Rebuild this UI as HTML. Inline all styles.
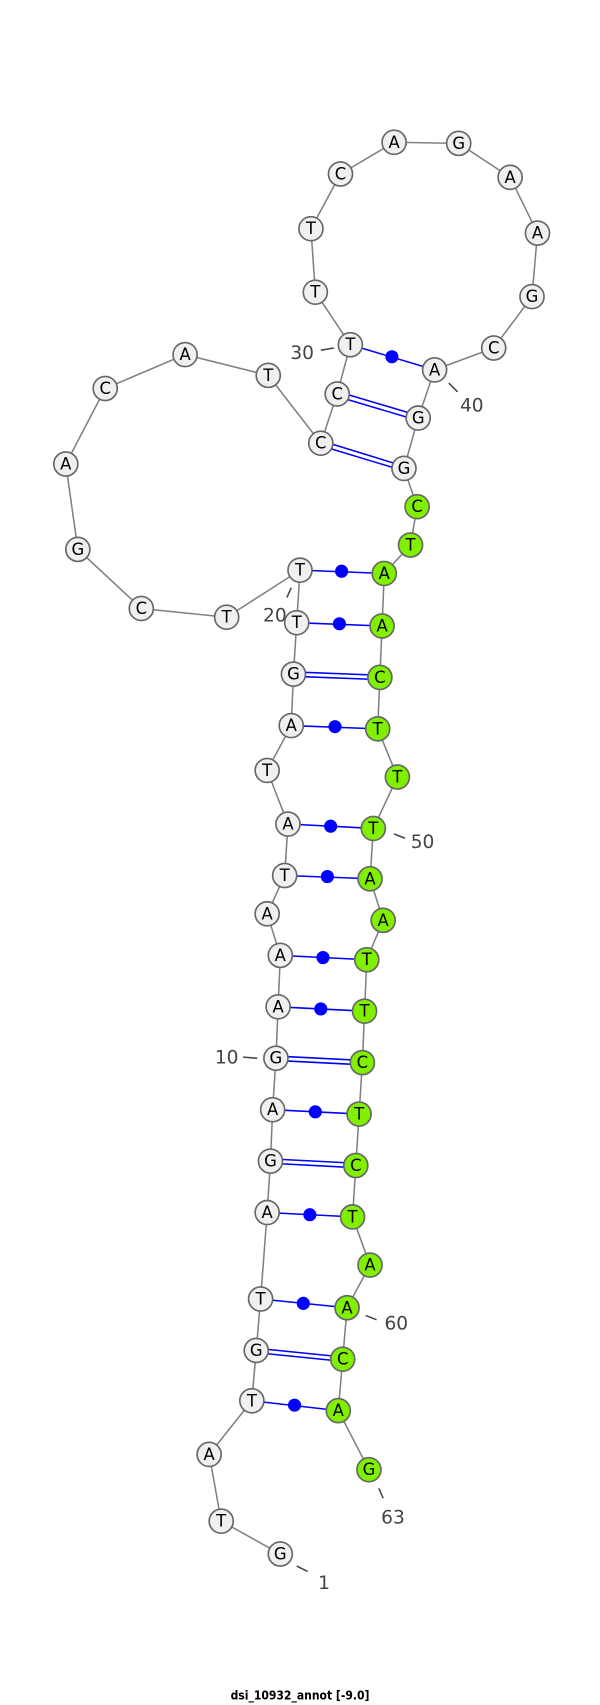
<!DOCTYPE html>
<html><head><meta charset="utf-8"><style>html,body{margin:0;padding:0;background:#fff}svg{display:block}</style></head>
<body>
<svg width="600" height="1705" viewBox="0 0 548 1558" xmlns="http://www.w3.org/2000/svg">
<polyline fill="none" stroke="#808080" stroke-width="1.4" points="256,1420 202,1390 191,1329 230,1280 234,1234 238,1187 244,1108 247,1061 249,1014 252,967 254,920 256,873 244,835 260,800 263,753 244,704 266,663 268,616 271,569 274,521 207,564 129,556 71,502 60,424 96,355 169,324 245,343 293,405 308,360 320,315 288,267 284,209 311,159 360,130 419,131 466,162 491,213 486,271 451,318 397,338 382,382 369,428 381,463 375,498 351,524 349,572 347,619 345,666 363,710 341,757 338,803 350,841 335,877 333,924 331,971 328,1018 325,1065 322,1112 338,1156 317,1195 313,1242 309,1289 337,1343"/>
<g stroke="#0000ff" stroke-width="1.4">
<line x1="230" y1="1280" x2="309" y2="1289"/>
<line x1="234" y1="1232" x2="313" y2="1240"/><line x1="234" y1="1236" x2="313" y2="1244"/>
<line x1="238" y1="1187" x2="317" y2="1195"/>
<line x1="244" y1="1108" x2="322" y2="1112"/>
<line x1="247" y1="1059" x2="325" y2="1063"/><line x1="247" y1="1063" x2="325" y2="1067"/>
<line x1="249" y1="1014" x2="328" y2="1018"/>
<line x1="252" y1="965" x2="331" y2="969"/><line x1="252" y1="969" x2="331" y2="973"/>
<line x1="254" y1="920" x2="333" y2="924"/>
<line x1="256" y1="873" x2="335" y2="877"/>
<line x1="260" y1="800" x2="338" y2="803"/>
<line x1="263" y1="753" x2="341" y2="757"/>
<line x1="266" y1="663" x2="345" y2="666"/>
<line x1="268" y1="614" x2="347" y2="617"/><line x1="268" y1="618" x2="347" y2="621"/>
<line x1="271" y1="569" x2="349" y2="572"/>
<line x1="274" y1="521" x2="351" y2="524"/>
<line x1="294" y1="403" x2="369" y2="426"/><line x1="292" y1="407" x2="368" y2="430"/>
<line x1="309" y1="358" x2="383" y2="380"/><line x1="307" y1="362" x2="381" y2="384"/>
<line x1="320" y1="315" x2="397" y2="338"/>
</g>
<g fill="#0000ff">
<circle cx="269" cy="1284" r="6"/><circle cx="277" cy="1191" r="6"/><circle cx="283" cy="1110" r="6"/>
<circle cx="288" cy="1016" r="6"/><circle cx="293" cy="922" r="6"/><circle cx="295" cy="875" r="6"/>
<circle cx="299" cy="801" r="6"/><circle cx="302" cy="755" r="6"/><circle cx="306" cy="664" r="6"/>
<circle cx="310" cy="570" r="6"/><circle cx="312" cy="522" r="6"/><circle cx="358" cy="326" r="6"/>
</g>
<g stroke="#444" stroke-width="1.4">
<line x1="293" y1="320" x2="305" y2="318"/><line x1="410" y1="350" x2="418" y2="358"/>
<line x1="266" y1="537" x2="262" y2="546"/><line x1="360" y1="762" x2="370" y2="766"/>
<line x1="222" y1="966" x2="235" y2="967"/><line x1="334" y1="1202" x2="344" y2="1206"/>
<line x1="346" y1="1360" x2="350" y2="1369"/><line x1="271" y1="1431" x2="281" y2="1436"/>
</g>
<g font-family="DejaVu Sans, Liberation Sans, sans-serif" font-size="17" fill="#444" text-anchor="middle">
<text x="276" y="328">30</text><text x="431" y="376">40</text><text x="251" y="568">20</text>
<text x="386" y="775">50</text><text x="207" y="972">10</text><text x="362" y="1215">60</text>
<text x="359" y="1392">63</text><text x="296" y="1452">1</text>
</g>
<g stroke="#666" stroke-width="1.5" fill="#f0f0f0">
<circle cx="256" cy="1420" r="11"/><circle cx="202" cy="1390" r="11"/><circle cx="191" cy="1329" r="11"/><circle cx="230" cy="1280" r="11"/><circle cx="234" cy="1234" r="11"/><circle cx="238" cy="1187" r="11"/><circle cx="244" cy="1108" r="11"/><circle cx="247" cy="1061" r="11"/><circle cx="249" cy="1014" r="11"/><circle cx="252" cy="967" r="11"/><circle cx="254" cy="920" r="11"/><circle cx="256" cy="873" r="11"/><circle cx="244" cy="835" r="11"/><circle cx="260" cy="800" r="11"/><circle cx="263" cy="753" r="11"/><circle cx="244" cy="704" r="11"/><circle cx="266" cy="663" r="11"/><circle cx="268" cy="616" r="11"/><circle cx="271" cy="569" r="11"/><circle cx="274" cy="521" r="11"/><circle cx="207" cy="564" r="11"/><circle cx="129" cy="556" r="11"/><circle cx="71" cy="502" r="11"/><circle cx="60" cy="424" r="11"/><circle cx="96" cy="355" r="11"/><circle cx="169" cy="324" r="11"/><circle cx="245" cy="343" r="11"/><circle cx="293" cy="405" r="11"/><circle cx="308" cy="360" r="11"/><circle cx="320" cy="315" r="11"/><circle cx="288" cy="267" r="11"/><circle cx="284" cy="209" r="11"/><circle cx="311" cy="159" r="11"/><circle cx="360" cy="130" r="11"/><circle cx="419" cy="131" r="11"/><circle cx="466" cy="162" r="11"/><circle cx="491" cy="213" r="11"/><circle cx="486" cy="271" r="11"/><circle cx="451" cy="318" r="11"/><circle cx="397" cy="338" r="11"/><circle cx="382" cy="382" r="11"/><circle cx="369" cy="428" r="11"/>
</g>
<g stroke="#666" stroke-width="1.5" fill="#80f000">
<circle cx="381" cy="463" r="11"/><circle cx="375" cy="498" r="11"/><circle cx="351" cy="524" r="11"/><circle cx="349" cy="572" r="11"/><circle cx="347" cy="619" r="11"/><circle cx="345" cy="666" r="11"/><circle cx="363" cy="710" r="11"/><circle cx="341" cy="757" r="11"/><circle cx="338" cy="803" r="11"/><circle cx="350" cy="841" r="11"/><circle cx="335" cy="877" r="11"/><circle cx="333" cy="924" r="11"/><circle cx="331" cy="971" r="11"/><circle cx="328" cy="1018" r="11"/><circle cx="325" cy="1065" r="11"/><circle cx="322" cy="1112" r="11"/><circle cx="338" cy="1156" r="11"/><circle cx="317" cy="1195" r="11"/><circle cx="313" cy="1242" r="11"/><circle cx="309" cy="1289" r="11"/><circle cx="337" cy="1343" r="11"/>
</g>
<g font-family="DejaVu Sans, Liberation Sans, sans-serif" font-size="15" fill="#000" text-anchor="middle" dominant-baseline="central">
<text x="256" y="1420">G</text><text x="202" y="1390">T</text><text x="191" y="1329">A</text><text x="230" y="1280">T</text><text x="234" y="1234">G</text><text x="238" y="1187">T</text><text x="244" y="1108">A</text><text x="247" y="1061">G</text><text x="249" y="1014">A</text><text x="252" y="967">G</text><text x="254" y="920">A</text><text x="256" y="873">A</text><text x="244" y="835">A</text><text x="260" y="800">T</text><text x="263" y="753">A</text><text x="244" y="704">T</text><text x="266" y="663">A</text><text x="268" y="616">G</text><text x="271" y="569">T</text><text x="274" y="521">T</text><text x="207" y="564">T</text><text x="129" y="556">C</text><text x="71" y="502">G</text><text x="60" y="424">A</text><text x="96" y="355">C</text><text x="169" y="324">A</text><text x="245" y="343">T</text><text x="293" y="405">C</text><text x="308" y="360">C</text><text x="320" y="315">T</text><text x="288" y="267">T</text><text x="284" y="209">T</text><text x="311" y="159">C</text><text x="360" y="130">A</text><text x="419" y="131">G</text><text x="466" y="162">A</text><text x="491" y="213">A</text><text x="486" y="271">G</text><text x="451" y="318">C</text><text x="397" y="338">A</text><text x="382" y="382">G</text><text x="369" y="428">G</text>
<text x="381" y="463">C</text><text x="375" y="498">T</text><text x="351" y="524">A</text><text x="349" y="572">A</text><text x="347" y="619">C</text><text x="345" y="666">T</text><text x="363" y="710">T</text><text x="341" y="757">T</text><text x="338" y="803">A</text><text x="350" y="841">A</text><text x="335" y="877">T</text><text x="333" y="924">T</text><text x="331" y="971">C</text><text x="328" y="1018">T</text><text x="325" y="1065">C</text><text x="322" y="1112">T</text><text x="338" y="1156">A</text><text x="317" y="1195">A</text><text x="313" y="1242">C</text><text x="309" y="1289">A</text><text x="337" y="1343">G</text>
</g>
<text x="274" y="1553" font-family="DejaVu Sans Condensed, DejaVu Sans, Liberation Sans, sans-serif" font-stretch="condensed" font-size="11" font-weight="bold" fill="#000" text-anchor="middle">dsi_10932_annot [-9.0]</text>
</svg>
</body></html>
